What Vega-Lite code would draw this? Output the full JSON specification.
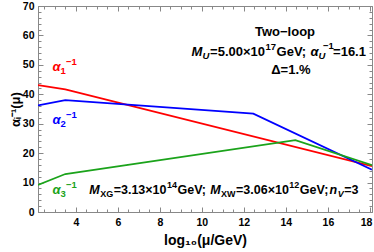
{
  "$schema": "https://vega.github.io/schema/vega-lite/v6.json",
  "width": 334,
  "height": 206,
  "autosize": {"type": "none"},
  "padding": {"left": 38, "top": 6, "right": 2, "bottom": 40},
  "config": {
    "font": "Liberation Sans",
    "view": {"stroke": "#888888", "strokeWidth": 1},
    "axis": {
      "grid": false,
      "domainColor": "#888888",
      "tickColor": "#888888",
      "labelFont": "Liberation Sans",
      "labelFontWeight": "bold",
      "labelFontSize": 10.5,
      "labelColor": "#000000",
      "titleFont": "Liberation Sans",
      "titleFontWeight": "bold",
      "titleColor": "#000000",
      "labelOverlap": false,
      "labelFlush": false
    }
  },
  "datasets": {
    "curves": [
      {"coupling": "a1", "logmu": 2.2, "inv": 43.1},
      {"coupling": "a1", "logmu": 3.5, "inv": 41.7},
      {"coupling": "a1", "logmu": 18.1, "inv": 15.6},
      {"coupling": "a2", "logmu": 2.2, "inv": 36.2},
      {"coupling": "a2", "logmu": 3.5, "inv": 38.0},
      {"coupling": "a2", "logmu": 12.45, "inv": 33.4},
      {"coupling": "a2", "logmu": 18.1, "inv": 14.4},
      {"coupling": "a3", "logmu": 2.2, "inv": 9.2},
      {"coupling": "a3", "logmu": 3.5, "inv": 12.9},
      {"coupling": "a3", "logmu": 14.45, "inv": 24.4},
      {"coupling": "a3", "logmu": 18.1, "inv": 15.9}
    ]
  },
  "layer": [
    {
      "data": {"name": "curves"},
      "mark": {"type": "line", "strokeWidth": 1.8, "clip": true},
      "encoding": {
        "x": {
          "field": "logmu", "type": "quantitative",
          "scale": {"domain": [2.2, 18.1], "nice": false, "zero": false},
          "axis": {
            "orient": "bottom",
            "values": [2.5,3,3.5,4,4.5,5,5.5,6,6.5,7,7.5,8,8.5,9,9.5,10,10.5,11,11.5,12,12.5,13,13.5,14,14.5,15,15.5,16,16.5,17,17.5,18],
            "labelExpr": "datum.value % 2 === 0 ? format(datum.value, 'd') : ''",
            "tickSize": {"condition": {"test": "datum.value % 2 === 0", "value": -5}, "value": -3},
            "labelPadding": 10,
            "labelFlush": 5,
            "labelFlushOffset": 2,
            "title": "log₁₀(μ/GeV)",
            "titleFontSize": 14,
            "titlePadding": 4
          }
        },
        "y": {
          "field": "inv", "type": "quantitative",
          "scale": {"domain": [0, 70], "nice": false},
          "axis": {
            "orient": "left",
            "values": [0,2,4,6,8,10,12,14,16,18,20,22,24,26,28,30,32,34,36,38,40,42,44,46,48,50,52,54,56,58,60,62,64,66,68,70],
            "labelExpr": "datum.value % 10 === 0 ? format(datum.value, 'd') : ''",
            "tickSize": {"condition": {"test": "datum.value % 10 === 0", "value": -5}, "value": -3},
            "labelPadding": 9,
            "title": "αᵢ⁻¹(μ)",
            "titleFontSize": 13,
            "titlePadding": 0
          }
        },
        "color": {
          "field": "coupling", "type": "nominal",
          "scale": {"domain": ["a1", "a2", "a3"], "range": ["#ff0000", "#0000ff", "#1ba31b"]},
          "legend": null
        }
      }
    },
    {
      "data": {"name": "curves"},
      "mark": {"type": "point", "opacity": 0},
      "encoding": {
        "x": {
          "field": "logmu", "type": "quantitative",
          "axis": {
            "orient": "top",
            "values": [2.5,3,3.5,4,4.5,5,5.5,6,6.5,7,7.5,8,8.5,9,9.5,10,10.5,11,11.5,12,12.5,13,13.5,14,14.5,15,15.5,16,16.5,17,17.5,18],
            "labels": false,
            "title": null,
            "tickSize": {"condition": {"test": "datum.value % 2 === 0", "value": -5}, "value": -3}
          }
        },
        "y": {
          "field": "inv", "type": "quantitative",
          "axis": {
            "orient": "right",
            "values": [0,2,4,6,8,10,12,14,16,18,20,22,24,26,28,30,32,34,36,38,40,42,44,46,48,50,52,54,56,58,60,62,64,66,68,70],
            "labels": false,
            "title": null,
            "tickSize": {"condition": {"test": "datum.value % 10 === 0", "value": -5}, "value": -3}
          }
        }
      }
    },
    {"data": {"values": [{}]}, "mark": {"type": "text", "text": "α", "fontSize": 13, "fontWeight": "bold", "fontStyle": "italic", "align": "left", "baseline": "middle", "color": "#ff0000", "dx": 0},
     "encoding": {"x": {"datum": 2.89, "axis": null}, "y": {"datum": 49.3, "axis": null}}},
    {"data": {"values": [{}]}, "mark": {"type": "text", "text": "1", "fontSize": 9.5, "fontWeight": "bold", "align": "left", "baseline": "middle", "color": "#ff0000", "dx": 8, "dy": 4},
     "encoding": {"x": {"datum": 2.89, "axis": null}, "y": {"datum": 49.3, "axis": null}}},
    {"data": {"values": [{}]}, "mark": {"type": "text", "text": "−1", "fontSize": 9.5, "fontWeight": "bold", "align": "left", "baseline": "middle", "color": "#ff0000", "dx": 13.5, "dy": -5},
     "encoding": {"x": {"datum": 2.89, "axis": null}, "y": {"datum": 49.3, "axis": null}}},
    {"data": {"values": [{}]}, "mark": {"type": "text", "text": "α", "fontSize": 13, "fontWeight": "bold", "fontStyle": "italic", "align": "left", "baseline": "middle", "color": "#0000ff", "dx": 0},
     "encoding": {"x": {"datum": 2.89, "axis": null}, "y": {"datum": 31.3, "axis": null}}},
    {"data": {"values": [{}]}, "mark": {"type": "text", "text": "2", "fontSize": 9.5, "fontWeight": "bold", "align": "left", "baseline": "middle", "color": "#0000ff", "dx": 8, "dy": 4},
     "encoding": {"x": {"datum": 2.89, "axis": null}, "y": {"datum": 31.3, "axis": null}}},
    {"data": {"values": [{}]}, "mark": {"type": "text", "text": "−1", "fontSize": 9.5, "fontWeight": "bold", "align": "left", "baseline": "middle", "color": "#0000ff", "dx": 13.5, "dy": -5},
     "encoding": {"x": {"datum": 2.89, "axis": null}, "y": {"datum": 31.3, "axis": null}}},
    {"data": {"values": [{}]}, "mark": {"type": "text", "text": "α", "fontSize": 13, "fontWeight": "bold", "fontStyle": "italic", "align": "left", "baseline": "middle", "color": "#1ba31b", "dx": 0},
     "encoding": {"x": {"datum": 2.89, "axis": null}, "y": {"datum": 7.5, "axis": null}}},
    {"data": {"values": [{}]}, "mark": {"type": "text", "text": "3", "fontSize": 9.5, "fontWeight": "bold", "align": "left", "baseline": "middle", "color": "#1ba31b", "dx": 8, "dy": 4},
     "encoding": {"x": {"datum": 2.89, "axis": null}, "y": {"datum": 7.5, "axis": null}}},
    {"data": {"values": [{}]}, "mark": {"type": "text", "text": "−1", "fontSize": 9.5, "fontWeight": "bold", "align": "left", "baseline": "middle", "color": "#1ba31b", "dx": 13.5, "dy": -5},
     "encoding": {"x": {"datum": 2.89, "axis": null}, "y": {"datum": 7.5, "axis": null}}},
    {"data": {"values": [{}]}, "mark": {"type": "text", "text": "Two−loop", "fontSize": 13, "fontWeight": "bold", "align": "center", "baseline": "middle", "color": "#000000"},
     "encoding": {"x": {"datum": 13.96, "axis": null}, "y": {"datum": 61.3, "axis": null}}},
    {"data": {"values": [{}]}, "mark": {"type": "text", "text": "Δ=1.%", "fontSize": 13, "fontWeight": "bold", "align": "center", "baseline": "middle", "color": "#000000"},
     "encoding": {"x": {"datum": 14.24, "axis": null}, "y": {"datum": 48.3, "axis": null}}},
    {"data": {"values": [{}]}, "mark": {"type": "text", "text": "M", "fontSize": 13, "fontWeight": "bold", "fontStyle": "italic", "align": "left", "baseline": "middle", "color": "#000000", "dx": 0},
     "encoding": {"x": {"datum": 9.51, "axis": null}, "y": {"datum": 54.4, "axis": null}}},
    {"data": {"values": [{}]}, "mark": {"type": "text", "text": "U", "fontSize": 9.5, "fontWeight": "bold", "fontStyle": "italic", "align": "left", "baseline": "middle", "color": "#000000", "dx": 11, "dy": 4},
     "encoding": {"x": {"datum": 9.51, "axis": null}, "y": {"datum": 54.4, "axis": null}}},
    {"data": {"values": [{}]}, "mark": {"type": "text", "text": "=5.00×10", "fontSize": 13, "fontWeight": "bold", "align": "left", "baseline": "middle", "color": "#000000", "dx": 18.5},
     "encoding": {"x": {"datum": 9.51, "axis": null}, "y": {"datum": 54.4, "axis": null}}},
    {"data": {"values": [{}]}, "mark": {"type": "text", "text": "17", "fontSize": 9.5, "fontWeight": "bold", "align": "left", "baseline": "middle", "color": "#000000", "dx": 74, "dy": -5},
     "encoding": {"x": {"datum": 9.51, "axis": null}, "y": {"datum": 54.4, "axis": null}}},
    {"data": {"values": [{}]}, "mark": {"type": "text", "text": "GeV;", "fontSize": 13, "fontWeight": "bold", "align": "left", "baseline": "middle", "color": "#000000", "dx": 85},
     "encoding": {"x": {"datum": 9.51, "axis": null}, "y": {"datum": 54.4, "axis": null}}},
    {"data": {"values": [{}]}, "mark": {"type": "text", "text": "α", "fontSize": 13, "fontWeight": "bold", "fontStyle": "italic", "align": "left", "baseline": "middle", "color": "#000000", "dx": 119},
     "encoding": {"x": {"datum": 9.51, "axis": null}, "y": {"datum": 54.4, "axis": null}}},
    {"data": {"values": [{}]}, "mark": {"type": "text", "text": "U", "fontSize": 9.5, "fontWeight": "bold", "fontStyle": "italic", "align": "left", "baseline": "middle", "color": "#000000", "dx": 127, "dy": 4},
     "encoding": {"x": {"datum": 9.51, "axis": null}, "y": {"datum": 54.4, "axis": null}}},
    {"data": {"values": [{}]}, "mark": {"type": "text", "text": "−1", "fontSize": 9.5, "fontWeight": "bold", "align": "left", "baseline": "middle", "color": "#000000", "dx": 131.5, "dy": -6},
     "encoding": {"x": {"datum": 9.51, "axis": null}, "y": {"datum": 54.4, "axis": null}}},
    {"data": {"values": [{}]}, "mark": {"type": "text", "text": "=16.1", "fontSize": 13, "fontWeight": "bold", "align": "left", "baseline": "middle", "color": "#000000", "dx": 141.5},
     "encoding": {"x": {"datum": 9.51, "axis": null}, "y": {"datum": 54.4, "axis": null}}},
    {"data": {"values": [{}]}, "mark": {"type": "text", "text": "M", "fontSize": 12.5, "fontWeight": "bold", "fontStyle": "italic", "align": "left", "baseline": "middle", "color": "#000000", "dx": 0},
     "encoding": {"x": {"datum": 4.64, "axis": null}, "y": {"datum": 7.5, "axis": null}}},
    {"data": {"values": [{}]}, "mark": {"type": "text", "text": "XG", "fontSize": 9, "fontWeight": "bold", "align": "left", "baseline": "middle", "color": "#000000", "dx": 10.9, "dy": 4},
     "encoding": {"x": {"datum": 4.64, "axis": null}, "y": {"datum": 7.5, "axis": null}}},
    {"data": {"values": [{}]}, "mark": {"type": "text", "text": "=3.13×10", "fontSize": 12.5, "fontWeight": "bold", "align": "left", "baseline": "middle", "color": "#000000", "dx": 24.4},
     "encoding": {"x": {"datum": 4.64, "axis": null}, "y": {"datum": 7.5, "axis": null}}},
    {"data": {"values": [{}]}, "mark": {"type": "text", "text": "14", "fontSize": 9, "fontWeight": "bold", "align": "left", "baseline": "middle", "color": "#000000", "dx": 77.7, "dy": -5},
     "encoding": {"x": {"datum": 4.64, "axis": null}, "y": {"datum": 7.5, "axis": null}}},
    {"data": {"values": [{}]}, "mark": {"type": "text", "text": "GeV;", "fontSize": 12.5, "fontWeight": "bold", "align": "left", "baseline": "middle", "color": "#000000", "dx": 88.2},
     "encoding": {"x": {"datum": 4.64, "axis": null}, "y": {"datum": 7.5, "axis": null}}},
    {"data": {"values": [{}]}, "mark": {"type": "text", "text": "M", "fontSize": 12.5, "fontWeight": "bold", "fontStyle": "italic", "align": "left", "baseline": "middle", "color": "#000000", "dx": 120.9},
     "encoding": {"x": {"datum": 4.64, "axis": null}, "y": {"datum": 7.5, "axis": null}}},
    {"data": {"values": [{}]}, "mark": {"type": "text", "text": "XW", "fontSize": 9, "fontWeight": "bold", "align": "left", "baseline": "middle", "color": "#000000", "dx": 131.8, "dy": 4},
     "encoding": {"x": {"datum": 4.64, "axis": null}, "y": {"datum": 7.5, "axis": null}}},
    {"data": {"values": [{}]}, "mark": {"type": "text", "text": "=3.06×10", "fontSize": 12.5, "fontWeight": "bold", "align": "left", "baseline": "middle", "color": "#000000", "dx": 146.8},
     "encoding": {"x": {"datum": 4.64, "axis": null}, "y": {"datum": 7.5, "axis": null}}},
    {"data": {"values": [{}]}, "mark": {"type": "text", "text": "12", "fontSize": 9, "fontWeight": "bold", "align": "left", "baseline": "middle", "color": "#000000", "dx": 200.1, "dy": -5},
     "encoding": {"x": {"datum": 4.64, "axis": null}, "y": {"datum": 7.5, "axis": null}}},
    {"data": {"values": [{}]}, "mark": {"type": "text", "text": "GeV;", "fontSize": 12.5, "fontWeight": "bold", "align": "left", "baseline": "middle", "color": "#000000", "dx": 210.6},
     "encoding": {"x": {"datum": 4.64, "axis": null}, "y": {"datum": 7.5, "axis": null}}},
    {"data": {"values": [{}]}, "mark": {"type": "text", "text": "n", "fontSize": 12.5, "fontWeight": "bold", "fontStyle": "italic", "align": "left", "baseline": "middle", "color": "#000000", "dx": 240.3},
     "encoding": {"x": {"datum": 4.64, "axis": null}, "y": {"datum": 7.5, "axis": null}}},
    {"data": {"values": [{}]}, "mark": {"type": "text", "text": "V", "fontSize": 9, "fontWeight": "bold", "fontStyle": "italic", "align": "left", "baseline": "middle", "color": "#000000", "dx": 248.4, "dy": 4},
     "encoding": {"x": {"datum": 4.64, "axis": null}, "y": {"datum": 7.5, "axis": null}}},
    {"data": {"values": [{}]}, "mark": {"type": "text", "text": "=3", "fontSize": 12.5, "fontWeight": "bold", "align": "left", "baseline": "middle", "color": "#000000", "dx": 254.9},
     "encoding": {"x": {"datum": 4.64, "axis": null}, "y": {"datum": 7.5, "axis": null}}}
  ],
  "resolve": {"axis": {"x": "independent", "y": "independent"}}
}
